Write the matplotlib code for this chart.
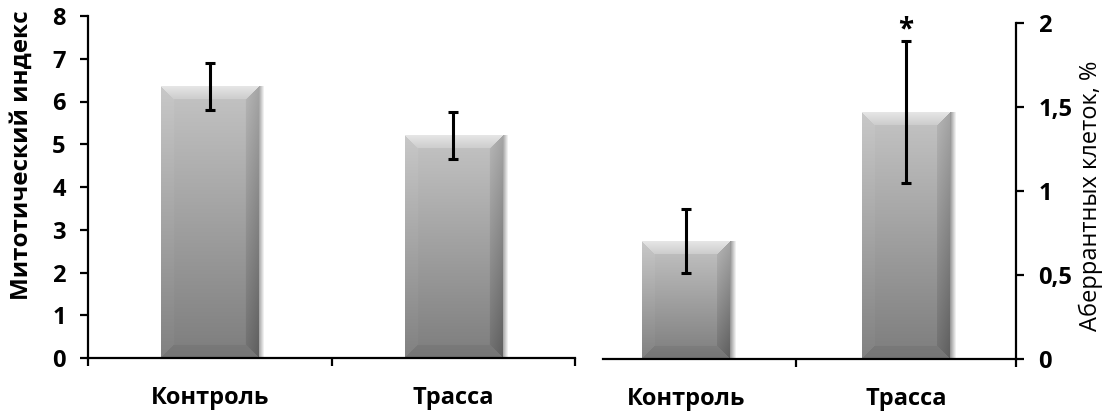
import numpy as np
import matplotlib
matplotlib.use("Agg")
import matplotlib.pyplot as plt

plt.rcParams['font.family'] = ['Open Sans', 'DejaVu Sans']
plt.rcParams['font.weight'] = 'bold'

# Data
categories = ["Контроль", "Трасса"]
mitotic_index = [6.35, 5.2]
mitotic_err = [0.56, 0.55]
aberrant = [0.70, 1.47]
aberrant_err = [0.19, 0.42]
left_ticks = [0, 1, 2, 3, 4, 5, 6, 7, 8]
right_ticks = [0, 0.5, 1, 1.5, 2]
right_ticklabels = ["0", "0,5", "1", "1,5", "2"]

W, H, DPI = 1110, 412, 100
fig = plt.figure(figsize=(W / DPI, H / DPI), dpi=DPI)
ax1 = fig.add_axes([88 / W, 1 - 358 / H, 487 / W, 342 / H])
ax2 = fig.add_axes([576 / W, 1 - 359 / H, 440 / W, 336 / H])
for a in (ax1, ax2):
    a.patch.set_alpha(0)

bevel = 13  # px


def shaded_bar(ax, rect):
    # per pixel shading for the bevelled Excel look
    x0, y0 = ax.transData.transform((rect.get_x(), rect.get_y()))
    x1, y1 = ax.transData.transform((rect.get_x() + rect.get_width(), rect.get_y() + rect.get_height()))
    w = int(round(x1 - x0))
    h = int(round(y1 - y0))
    ii, jj = np.mgrid[0:h, 0:w]
    t = ii / max(h - 1, 1)
    face = 0.77 - 0.28 * t
    dt, db, dl, dr = ii, h - 1 - ii, jj, w - 1 - jj
    m = np.minimum(np.minimum(dt, db), np.minimum(dl, dr))
    img = face.copy()
    inb = m < bevel
    top = inb & (dt == m)
    bot = inb & (db == m) & ~top
    left = inb & (dl == m) & ~top & ~bot
    right = inb & (dr == m) & ~top & ~bot & ~left
    img[top] = 0.90 - 0.10 * (dt[top] / bevel)
    img[left] = face[left] + 0.015
    img[right] = face[right] - 0.05 - 0.07 * (1 - dr[right] / bevel)
    img[bot] = face[bot] - 0.03
    img = np.clip(img, 0, 1)
    rgb = np.dstack([img, img, img])
    ax.imshow(rgb, extent=(rect.get_x(), rect.get_x() + rect.get_width(),
                           rect.get_y(), rect.get_y() + rect.get_height()),
              aspect='auto', interpolation='bilinear', zorder=2)
    # soft shadow on the right
    sw = 7
    sh = np.linspace(0.4, 0.0, sw)[None, :] * np.ones((h, 1))
    shadow = np.zeros((h, sw, 4))
    shadow[..., 3] = sh
    xs = rect.get_x() + rect.get_width()
    dx = ax.transData.inverted().transform((x1 + sw, y0))[0] - xs
    ax.imshow(shadow, extent=(xs, xs + dx, rect.get_y(), rect.get_y() + rect.get_height()),
              aspect='auto', interpolation='bilinear', zorder=1.9)


def style_axis(ax, side):
    for s in ax.spines.values():
        s.set_visible(False)
    ax.spines['bottom'].set_visible(True)
    ax.spines[side].set_visible(True)
    for s in ax.spines.values():
        s.set_linewidth(1.6)
    ax.tick_params(axis='both', which='major', direction='out', length=6, width=1.6,
                   labelsize=17)
    ax.tick_params(axis='x', which='minor', length=0, pad=20, labelsize=17)


x = np.arange(len(categories))
width = 0.40

# left panel
ax1.set_xlim(-0.5, 1.5)
ax1.set_ylim(0, 8)
bars1 = ax1.bar(x, mitotic_index, width=width, color='none', edgecolor='none')
ax1.errorbar(x, mitotic_index, yerr=mitotic_err, fmt='none', ecolor='black',
             elinewidth=2.2, capsize=3.5, capthick=2.2, zorder=4)
style_axis(ax1, 'left')
ax1.set_yticks(left_ticks)
ax1.set_xticks([-0.5, 0.5, 1.5])
ax1.set_xticklabels([])
ax1.set_xticks(x, minor=True)
ax1.set_xticklabels(categories, minor=True)
ax1.tick_params(axis='y', pad=10)
ax1.set_ylabel("Митотический индекс", fontsize=17.5, fontweight='bold')
ax1.yaxis.set_label_coords(-0.111, 0.592)

# right panel
ax2.set_xlim(-0.5, 1.5)
ax2.set_ylim(0, 2)
bars2 = ax2.bar(x, aberrant, width=width, color='none', edgecolor='none')
ax2.errorbar(x, aberrant, yerr=aberrant_err, fmt='none', ecolor='black',
             elinewidth=2.2, capsize=3.5, capthick=2.2, zorder=4)
style_axis(ax2, 'right')
ax2.spines['bottom'].set_bounds(-0.378, 1.5)
ax2.yaxis.tick_right()
ax2.yaxis.set_label_position('right')
ax2.set_yticks(right_ticks)
ax2.set_yticklabels(right_ticklabels)
ax2.tick_params(axis='y', pad=10)
ax2.set_xticks([0.5, 1.5])
ax2.set_xticklabels([])
ax2.set_xticks(x, minor=True)
ax2.set_xticklabels(categories, minor=True)
ax2.set_ylabel("Аберрантных клеток, %", fontsize=17, fontweight='normal', rotation=90)
ax2.yaxis.set_label_coords(1.143, 0.485)
ax2.text(x[1], aberrant[1] + aberrant_err[1] + 0.07, "*", ha='center', va='center',
         fontsize=20, fontweight='bold')

fig.canvas.draw()
for b in bars1:
    shaded_bar(ax1, b)
for b in bars2:
    shaded_bar(ax2, b)
ax1.set_xlim(-0.5, 1.5)
ax1.set_ylim(0, 8)
ax2.set_xlim(-0.5, 1.5)
ax2.set_ylim(0, 2)

fig.savefig("out.png", dpi=DPI)
